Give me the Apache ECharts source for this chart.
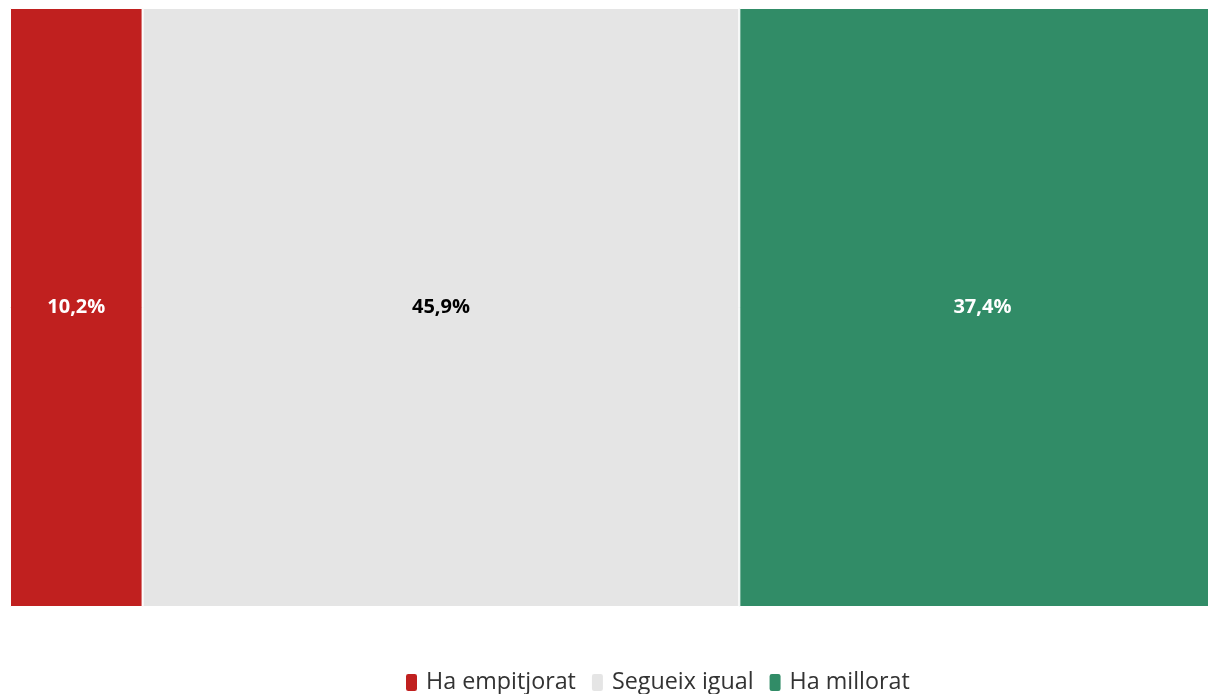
<!DOCTYPE html>
<html>
<head>
<meta charset="utf-8">
<script src="https://cdn.jsdelivr.net/npm/echarts@6/dist/echarts.min.js"></script>
<style>html,body{margin:0;padding:0;background:#fff}#c{width:1208px;height:694px}</style>
</head>
<body>
<div id="c"></div>
<script>
const categories = ['Total'];
const seriesNames = ['Ha empitjorat', 'Segueix igual', 'Ha millorat'];
const empitjorat = [10.2];
const igual = [45.9];
const millorat = [37.4];
const colors = ['#C0201F', '#E5E5E5', '#318C67'];
const labelColors = ['#ffffff', '#000000', '#ffffff'];
const values = [empitjorat, igual, millorat];

const chart = echarts.init(document.getElementById('c'));
chart.setOption({
  animation: false,
  grid: { left: 10, top: 8, right: 0, height: 599, containLabel: false },
  xAxis: { type: 'value', min: 0, max: 92.15, show: false },
  yAxis: { type: 'category', data: categories, show: false },
  legend: {
    left: 399, top: 666,
    icon: 'roundRect', itemWidth: 13, itemHeight: 19, itemGap: 14,
    textStyle: { fontFamily: 'Open Sans', fontSize: 23.3, color: '#333', padding: [0, 0, 0, 3] },
    data: seriesNames
  },
  series: seriesNames.map((n, i) => ({
    name: n, type: 'bar', stack: 'a', data: values[i],
    barCategoryGap: 0, barWidth: '100%', clip: false,
    itemStyle: { color: colors[i], borderColor: '#fff', borderWidth: 1 },
    label: {
      show: true, position: 'inside', color: labelColors[i],
      fontFamily: 'Open Sans', fontWeight: 'bold', fontSize: 20,
      formatter: p => p.value.toFixed(1).replace('.', ',') + '%'
    }
  }))
});
</script>
</body>
</html>
